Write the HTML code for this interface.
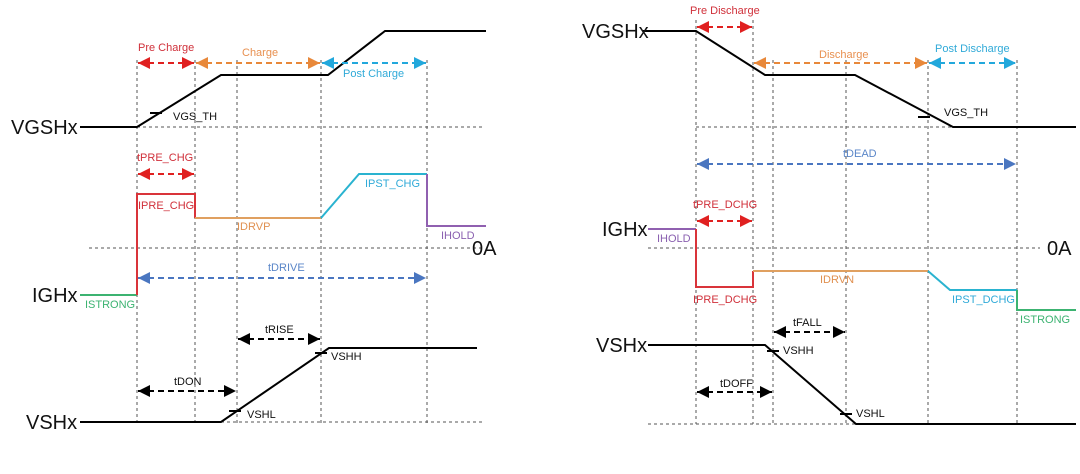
<!DOCTYPE html>
<html><head><meta charset="utf-8"><style>
html,body{margin:0;padding:0;background:#fff;}
svg{display:block;}
text{font-family:"Liberation Sans",Arial,sans-serif;}
.s{font-size:11px;}
.b{font-size:20px;fill:#111;}
</style></head><body>
<svg width="1080" height="474" viewBox="0 0 1080 474" xmlns="http://www.w3.org/2000/svg">
<defs>
<marker id="ar" viewBox="0 0 10 10" refX="10" refY="5" markerWidth="12" markerHeight="12" markerUnits="userSpaceOnUse" orient="auto-start-reverse"><path d="M0,0L10,5L0,10z" fill="#e02020"/></marker>
<marker id="ao" viewBox="0 0 10 10" refX="10" refY="5" markerWidth="12" markerHeight="12" markerUnits="userSpaceOnUse" orient="auto-start-reverse"><path d="M0,0L10,5L0,10z" fill="#e8883a"/></marker>
<marker id="ac" viewBox="0 0 10 10" refX="10" refY="5" markerWidth="12" markerHeight="12" markerUnits="userSpaceOnUse" orient="auto-start-reverse"><path d="M0,0L10,5L0,10z" fill="#22a8dc"/></marker>
<marker id="ab" viewBox="0 0 10 10" refX="10" refY="5" markerWidth="12" markerHeight="12" markerUnits="userSpaceOnUse" orient="auto-start-reverse"><path d="M0,0L10,5L0,10z" fill="#4a76c0"/></marker>
<marker id="ak" viewBox="0 0 10 10" refX="10" refY="5" markerWidth="12" markerHeight="12" markerUnits="userSpaceOnUse" orient="auto-start-reverse"><path d="M0,0L10,5L0,10z" fill="#000"/></marker>
</defs>

<!-- LEFT PANEL -->
<g stroke="#555" stroke-width="1" stroke-dasharray="3,3" fill="none">
<line x1="137" y1="60" x2="137" y2="424"/>
<line x1="195" y1="60" x2="195" y2="424"/>
<line x1="237" y1="60" x2="237" y2="424"/>
<line x1="321" y1="60" x2="321" y2="424"/>
<line x1="427" y1="60" x2="427" y2="424"/>
<line x1="137" y1="127" x2="484" y2="127"/>
<line x1="89" y1="248" x2="484" y2="248"/>
<line x1="137" y1="422" x2="484" y2="422"/>
</g>
<g stroke="#000" stroke-width="2" fill="none">
<polyline points="80,127 137,127 221,75 328,75 385,31 486,31"/>
<line x1="150" y1="113" x2="162" y2="113"/>
<polyline points="80,422 221,422 329,348 477,348"/>
<line x1="229" y1="411" x2="241" y2="411"/>
<line x1="315" y1="353" x2="327" y2="353"/>
</g>
<g stroke-width="2" fill="none">
<polyline points="80,295 137,295" stroke="#3cb371"/>
<polyline points="137,295 137,194 195,194 195,218" stroke="#d9343a"/>
<polyline points="195,218 321,218" stroke="#e0a060"/>
<polyline points="321,218 359,174 427,174" stroke="#2ab3d0"/>
<polyline points="427,174 427,226 486,226" stroke="#9060b0"/>
</g>
<g stroke-width="2" stroke-dasharray="6,4" fill="none">
<line x1="138" y1="63" x2="194" y2="63" stroke="#e02020" marker-start="url(#ar)" marker-end="url(#ar)"/>
<line x1="196" y1="63" x2="320" y2="63" stroke="#e8883a" marker-start="url(#ao)" marker-end="url(#ao)"/>
<line x1="322" y1="63" x2="426" y2="63" stroke="#22a8dc" marker-start="url(#ac)" marker-end="url(#ac)"/>
<line x1="138" y1="174" x2="194" y2="174" stroke="#e02020" marker-start="url(#ar)" marker-end="url(#ar)"/>
<line x1="138" y1="278" x2="426" y2="278" stroke="#4a76c0" marker-start="url(#ab)" marker-end="url(#ab)"/>
<line x1="238" y1="339" x2="320" y2="339" stroke="#000" marker-start="url(#ak)" marker-end="url(#ak)"/>
<line x1="138" y1="391" x2="236" y2="391" stroke="#000" marker-start="url(#ak)" marker-end="url(#ak)"/>
</g>
<text class="b" x="11" y="134">VGSHx</text>
<text class="b" x="32" y="302">IGHx</text>
<text class="b" x="26" y="429">VSHx</text>
<text class="b" x="472" y="255">0A</text>
<text class="s" x="138" y="51" fill="#d0303a">Pre Charge</text>
<text class="s" x="242" y="56" fill="#e89050">Charge</text>
<text class="s" x="343" y="77" fill="#30aad8">Post Charge</text>
<text class="s" x="173" y="120" fill="#111">VGS_TH</text>
<text class="s" x="137" y="161" fill="#d0303a">tPRE_CHG</text>
<text class="s" x="138" y="209" fill="#d0303a">IPRE_CHG</text>
<text class="s" x="237" y="230" fill="#e09050">IDRVP</text>
<text class="s" x="365" y="187" fill="#30aad8">IPST_CHG</text>
<text class="s" x="441" y="239" fill="#8a60b0">IHOLD</text>
<text class="s" x="268" y="271" fill="#5a86c8">tDRIVE</text>
<text class="s" x="85" y="308" fill="#3cb371">ISTRONG</text>
<text class="s" x="265" y="333" fill="#111">tRISE</text>
<text class="s" x="331" y="360" fill="#111">VSHH</text>
<text class="s" x="174" y="385" fill="#111">tDON</text>
<text class="s" x="247" y="418" fill="#111">VSHL</text>

<!-- RIGHT PANEL -->
<g stroke="#555" stroke-width="1" stroke-dasharray="3,3" fill="none">
<line x1="696" y1="20" x2="696" y2="424"/>
<line x1="753" y1="20" x2="753" y2="424"/>
<line x1="773" y1="60" x2="773" y2="424"/>
<line x1="846" y1="60" x2="846" y2="424"/>
<line x1="928" y1="60" x2="928" y2="424"/>
<line x1="1017" y1="60" x2="1017" y2="424"/>
<line x1="696" y1="127" x2="953" y2="127"/>
<line x1="648" y1="248" x2="1040" y2="248"/>
<line x1="648" y1="424" x2="856" y2="424"/>
</g>
<g stroke="#000" stroke-width="2" fill="none">
<polyline points="643,31 696,31 765,75 855,75 953,127 1076,127"/>
<line x1="918" y1="117" x2="930" y2="117"/>
<polyline points="648,345 765,345 856,424 1076,424"/>
<line x1="767" y1="351" x2="779" y2="351"/>
<line x1="840" y1="414" x2="852" y2="414"/>
</g>
<g stroke-width="2" fill="none">
<polyline points="648,229 696,229" stroke="#9060b0"/>
<polyline points="696,229 696,287 753,287 753,271" stroke="#d9343a"/>
<polyline points="753,271 928,271" stroke="#e0a060"/>
<polyline points="928,271 950,290 1017,290" stroke="#2ab3d0"/>
<polyline points="1017,290 1017,310 1076,310" stroke="#3cb371"/>
</g>
<g stroke-width="2" stroke-dasharray="6,4" fill="none">
<line x1="697" y1="27" x2="752" y2="27" stroke="#e02020" marker-start="url(#ar)" marker-end="url(#ar)"/>
<line x1="754" y1="63" x2="927" y2="63" stroke="#e8883a" marker-start="url(#ao)" marker-end="url(#ao)"/>
<line x1="929" y1="63" x2="1016" y2="63" stroke="#22a8dc" marker-start="url(#ac)" marker-end="url(#ac)"/>
<line x1="697" y1="164" x2="1016" y2="164" stroke="#4a76c0" marker-start="url(#ab)" marker-end="url(#ab)"/>
<line x1="697" y1="221" x2="752" y2="221" stroke="#e02020" marker-start="url(#ar)" marker-end="url(#ar)"/>
<line x1="774" y1="332" x2="845" y2="332" stroke="#000" marker-start="url(#ak)" marker-end="url(#ak)"/>
<line x1="697" y1="392" x2="772" y2="392" stroke="#000" marker-start="url(#ak)" marker-end="url(#ak)"/>
</g>
<text class="b" x="582" y="38">VGSHx</text>
<text class="b" x="602" y="236">IGHx</text>
<text class="b" x="596" y="352">VSHx</text>
<text class="b" x="1047" y="255">0A</text>
<text class="s" x="690" y="14" fill="#d0303a">Pre Discharge</text>
<text class="s" x="819" y="58" fill="#e89050">Discharge</text>
<text class="s" x="935" y="52" fill="#30aad8">Post Discharge</text>
<text class="s" x="944" y="116" fill="#111">VGS_TH</text>
<text class="s" x="843" y="157" fill="#5a86c8">tDEAD</text>
<text class="s" x="693" y="208" fill="#d0303a">tPRE_DCHG</text>
<text class="s" x="657" y="242" fill="#8a60b0">IHOLD</text>
<text class="s" x="820" y="283" fill="#e09050">IDRVN</text>
<text class="s" x="693" y="303" fill="#d0303a">IPRE_DCHG</text>
<text class="s" x="952" y="303" fill="#30aad8">IPST_DCHG</text>
<text class="s" x="1020" y="323" fill="#3cb371">ISTRONG</text>
<text class="s" x="793" y="326" fill="#111">tFALL</text>
<text class="s" x="783" y="354" fill="#111">VSHH</text>
<text class="s" x="720" y="387" fill="#111">tDOFF</text>
<text class="s" x="856" y="417" fill="#111">VSHL</text>
</svg>
</body></html>
